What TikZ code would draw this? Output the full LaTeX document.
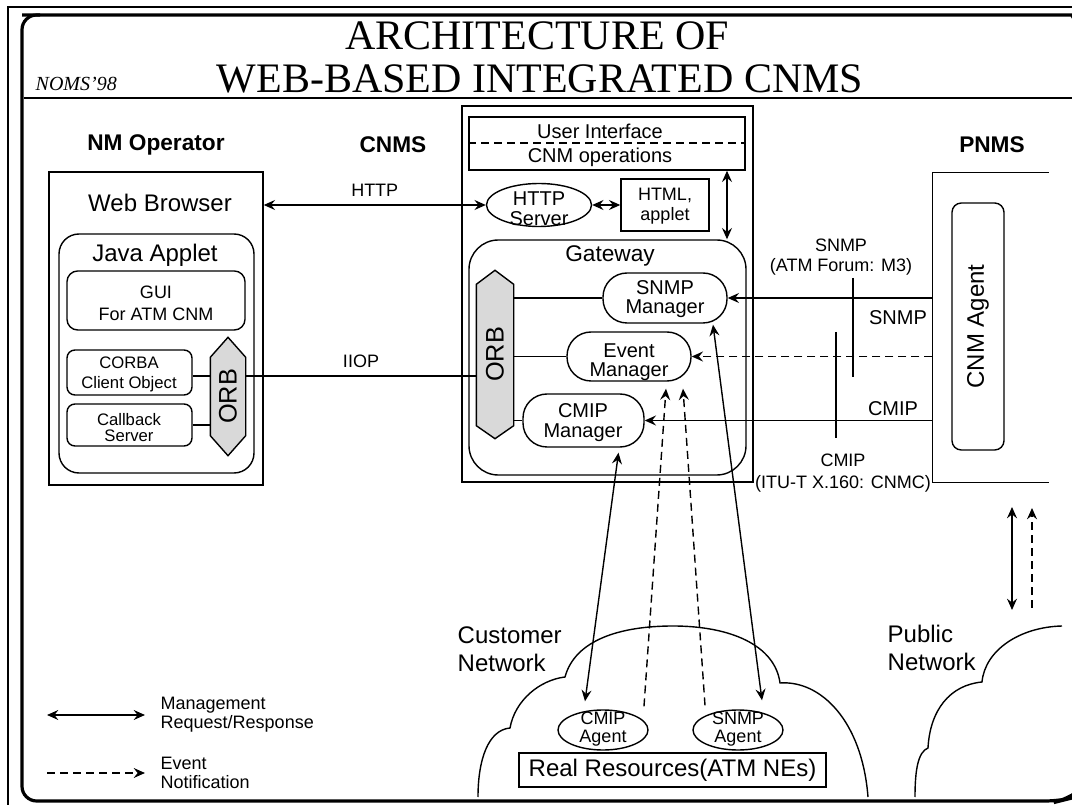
\documentclass[tikz,border=0pt]{standalone}
\usepackage{fontspec}
\setmainfont{Liberation Serif}
\setsansfont{Liberation Sans}
\usetikzlibrary{arrows.meta,fit,calc,shapes.geometric}
\newcommand{\fsz}[2]{\fontsize{#1}{#2}\selectfont}
\begin{document}
\begin{tikzpicture}[x=0.75pt,y=-0.75pt,line width=1.05pt,
  >={Stealth[length=8.5pt,width=7.5pt,inset=3pt]},
  every node/.style={font=\sffamily,inner sep=0pt},
  boxed/.style={draw,inner sep=0pt},
  spot/.style={inner sep=0pt},
  t24/.style={font=\sffamily\fsz{18}{21}},
  t20/.style={font=\sffamily\fsz{15}{15}},
  t18/.style={font=\sffamily\fsz{13.5}{14.5}},
  head/.style={font=\sffamily\bfseries\fsz{17}{20}},
  orbtxt/.style={font=\sffamily\fsz{19}{20},rotate=90},
  orbhex/.style={draw,fill=black!15},
  evt/.style={dash pattern=on 6pt off 3.75pt},
  cloud/.style={line width=1.05pt}]
\useasboundingbox (0,0) rectangle (1072,805);
\clip (0,0) rectangle (1072,805);

% slide frames
\draw[line width=0.9pt] (8,812) -- (8,7) -- (1080,7);
\draw[line width=2.4pt,rounded corners=11pt] (22,15) -- (1060,15) arc[start angle=90,end angle=40,radius=20pt];
\draw[line width=2.4pt,rounded corners=11pt] (1072,796) -- (1068,799) -- (1060,801) -- (22,801) -- (22,15) -- (40,15);

% title
\node[font=\rmfamily\fsz{31.5}{32},anchor=base] (ttlA) at (537,50) {ARCHITECTURE OF};
\node[font=\rmfamily\fsz{31.5}{32},anchor=base] (ttlB) at (540,93) {WEB-BASED INTEGRATED CNMS};
\draw (24,98) -- (1072,98);
\node[font=\rmfamily\itshape\fsz{15}{16},anchor=base west] (noms) at (35,91) {NOMS'98};

% column headings
\node[head] (hNM) at (156,145) {NM Operator};
\node[head] (hCN) at (393,145) {CNMS};
\node[head] (hPN) at (992,145) {PNMS};

% ---------- NM operator side ----------
\node[boxed,fit={(49,172) (263,485)}] (wb) {};
\node[t24] (wbT) at (160,203) {Web Browser};
\node[boxed,rounded corners=15pt,fit={(59,234) (254,473)}] (ja) {};
\node[t24] (jaT) at (155,255) {Java Applet};
\node[boxed,rounded corners=8pt,fit={(67,271) (245,330)}] (gui) {};
\node[align=center,font=\sffamily\fsz{13.5}{16.5}] (guiT) at (156,303) {GUI\\For ATM CNM};
\node[boxed,rounded corners=6pt,fit={(67,350) (192,395)}] (corba) {};
\node[align=center,font=\sffamily\fsz{12.5}{15}] (corbaT) at (129,374) {CORBA\\Client Object};
\node[boxed,rounded corners=6pt,fit={(67,404) (192,446)}] (cbs) {};
\node[align=center,font=\sffamily\fsz{12.5}{12}] (cbsT) at (129,428) {Callback\\Server};
\node[spot,fit={(211,338) (245,455)}] (orbL) {};
\draw[orbhex] (orbL.north) -- ($(orbL.north east)+(0,20)$) -- ($(orbL.south east)+(0,-20)$)
  -- (orbL.south) -- ($(orbL.south west)+(0,-20)$) -- ($(orbL.north west)+(0,20)$) -- cycle;
\node[orbtxt] (orbLt) at (orbL.center) {ORB};
\coordinate (iiopY) at (0,376);
\draw (corba.east |- iiopY) -- (orbL.west |- iiopY);
\draw (cbs.east) -- (cbs.east -| orbL.west);

% ---------- CNMS ----------
\node[boxed,fit={(462,106) (753,482)}] (cnms) {};
\node[boxed,fit={(469,117) (745,170)}] (ui) {};
\draw[evt] (ui.west |- 0,143) -- (ui.east |- 0,143);
\node[t20] (uiA) at (600,131) {User Interface};
\node[t20] (uiB) at (600,157) {CNM operations};
\node[draw,ellipse,minimum width=78.75pt,minimum height=32.25pt] (httpS) at (539,205) {};
\node[t20,align=center] (httpT) at (539,209) {HTTP\\Server};
\node[boxed,fit={(621,179) (709,231)}] (html) {};
\node[align=center,font=\sffamily\fsz{13.5}{15}] (htmlT) at (665,206) {HTML,\\applet};
\node[boxed,rounded corners=22pt,fit={(469,240) (746,475)}] (gw) {};
\node[font=\sffamily\fsz{17}{20}] (gwT) at (610,256) {Gateway};
\node[spot,fit={(477,271) (513,438)}] (orbC) {};
\draw[orbhex] (orbC.north) -- ($(orbC.north east)+(0,14)$) -- ($(orbC.south east)+(0,-13)$)
  -- (orbC.south) -- ($(orbC.south west)+(0,-13)$) -- ($(orbC.north west)+(0,14)$) -- cycle;
\node[orbtxt] (orbCt) at (orbC.center) {ORB};
\node[boxed,rounded corners=18pt,fit={(603,273) (727,323)}] (snM) {};
\node[align=center,font=\sffamily\fsz{15}{14}] (snMT) at (665,299) {SNMP\\Manager};
\node[boxed,rounded corners=18pt,fit={(567,332) (691,381)}] (evM) {};
\node[align=center,font=\sffamily\fsz{15}{14}] (evMT) at (629,362) {Event\\Manager};
\node[boxed,rounded corners=18pt,fit={(523,394) (644,447)}] (cmM) {};
\node[align=center,font=\sffamily\fsz{15}{15}] (cmMT) at (583,423) {CMIP\\Manager};
\draw (snM.west) -- (snM.west -| orbC.east);
\draw (evM.west) -- (evM.west -| orbC.east);
\draw (cmM.west) -- (cmM.west -| orbC.east);

% browser <-> server links
\draw[<->] (wb.east |- httpS.west) -- node[above=6pt,t18] (httpL) {HTTP} (httpS.west);
\draw (orbL.east |- iiopY) -- node[above=6pt,t18] (iiopL) {IIOP} (orbC.west |- iiopY);
\draw[<->] (httpS.east) -- (html.west |- httpS.east);
\coordinate (vX) at (727,0);
\draw[<->] (ui.south -| vX) -- (gw.north -| vX);

% ---------- PNMS ----------
\node[spot,fit={(933,173) (1048,482)}] (pnms) {};
\draw (pnms.north east) -- (pnms.north west) -- (pnms.south west) -- (pnms.south east);
\node[boxed,rounded corners=7pt,fit={(952,203) (1004,450)}] (cnm) {};
\node[t24,rotate=90] (cnmT) at (cnm.center) {CNM Agent};
\draw[->] (pnms.west |- snM.east) -- (snM.east);
\draw[->,evt] (pnms.west |- evM.east) -- (evM.east);
\draw[->] (pnms.west |- cmM.east) -- (cmM.east);
\draw (853,278) -- (853,377);
\draw (836,332) -- (836,438);
\node[align=center,font=\sffamily\fsz{13.5}{15}] (lSn) at (841,257) {SNMP\\(ATM Forum: M3)};
\node[t20] (lSn2) at (898,318) {SNMP};
\node[t20] (lCm2) at (893,409) {CMIP};
\node[align=center,font=\sffamily\fsz{13.5}{17}] (lCm) at (843,473) {CMIP\\(ITU-T X.160: CNMC)};

% ---------- networks ----------
\draw[cloud] (478,797) .. controls (478,760) and (488,730) .. (510,728)
  .. controls (515,700) and (540,680) .. (565,677)
  .. controls (575,640) and (620,626) .. (673,626)
  .. controls (730,626) and (775,645) .. (780,683)
  .. controls (820,680) and (862,720) .. (868,797);
\draw[cloud] (915,797) .. controls (915,770) and (918,752) .. (928,748)
  .. controls (930,710) and (950,685) .. (982,682)
  .. controls (985,650) and (1020,627) .. (1062,626);
\node[align=left,anchor=west,font=\sffamily\fsz{18}{21}] (custT) at (457,649) {Customer\\Network};
\node[align=left,anchor=west,font=\sffamily\fsz{18}{21}] (pubT) at (887,648) {Public\\Network};
\node[draw,ellipse,minimum width=67.5pt,minimum height=30pt] (cmA) at (603,730) {};
\node[align=center,font=\sffamily\fsz{13.5}{13}] (cmAT) at (603,729) {CMIP\\Agent};
\node[draw,ellipse,minimum width=67.5pt,minimum height=30pt] (snA) at (738,730) {};
\node[align=center,font=\sffamily\fsz{13.5}{13}] (snAT) at (738,729) {SNMP\\Agent};
\node[boxed,fit={(519,753) (826,787)}] (rr) {};
\node[t24] (rrT) at (rr.center) {Real Resources(ATM NEs)};

% agent links
\draw[<->] ($(cmA.north)+(-18,-8)$) -- ($(cmM.south)+(35,5)$);
\draw[<->] ($(snA.north)+(24,-9)$) -- ($(snM.south)+(48,1)$);
\draw[->,evt] ($(cmA.north)+(41,-3)$) -- ($(evM.south)+(37,7)$);
\draw[->,evt] ($(snA.north)+(-33,-4)$) -- ($(evM.south)+(54,7)$);

% PNMS to public network
\coordinate (pA) at (1012,507);
\coordinate (pB) at (1012,610);
\coordinate (pC) at (1032,608);
\coordinate (pD) at (1032,508);
\draw[<->] (pA) -- (pB);
\draw[->,evt] (pC) -- (pD);

% legend
\coordinate (lgA1) at (47,715);
\coordinate (lgA2) at (145,715);
\coordinate (lgB1) at (47,773);
\coordinate (lgB2) at (145,773);
\draw[<->] (lgA1) -- (lgA2);
\draw[->,evt] (lgB1) -- (lgB2);
\node[anchor=west,align=left,font=\sffamily\fsz{13.5}{14.5}] (lgAT) at (160,715) {Management\\Request/Response};
\node[anchor=west,align=left,font=\sffamily\fsz{13.5}{14.5}] (lgBT) at (160,773) {Event\\Notification};
\end{tikzpicture}
\end{document}
